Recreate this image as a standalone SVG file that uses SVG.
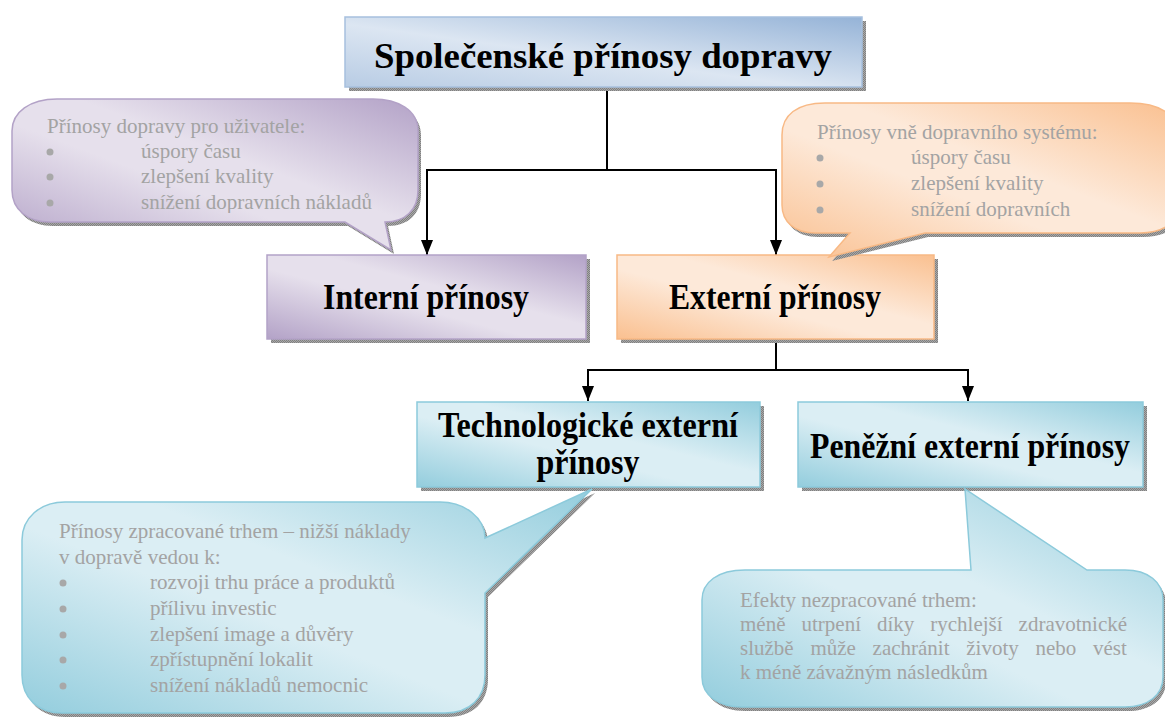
<svg xmlns="http://www.w3.org/2000/svg" width="1165" height="718" viewBox="0 0 1165 718">
  <defs>
    <!-- fills: darker at two opposite corners, pale band through the middle -->
    <linearGradient id="gTitle" x1="0" y1="1" x2="1" y2="0">
      <stop offset="0" stop-color="#b8cce4"/>
      <stop offset="0.45" stop-color="#dce6f2"/>
      <stop offset="1" stop-color="#95b3d7"/>
    </linearGradient>
    <linearGradient id="gPurple" x1="0" y1="1" x2="1" y2="0">
      <stop offset="0" stop-color="#b3a2c7"/>
      <stop offset="0.42" stop-color="#e6e0ec"/>
      <stop offset="0.58" stop-color="#e6e0ec"/>
      <stop offset="1" stop-color="#b3a2c7"/>
    </linearGradient>
    <linearGradient id="gOrange" x1="0" y1="1" x2="1" y2="0">
      <stop offset="0" stop-color="#fac090"/>
      <stop offset="0.42" stop-color="#fde9d9"/>
      <stop offset="0.58" stop-color="#fde9d9"/>
      <stop offset="1" stop-color="#fac090"/>
    </linearGradient>
    <linearGradient id="gBlue" x1="0" y1="1" x2="1" y2="0">
      <stop offset="0" stop-color="#93cddd"/>
      <stop offset="0.42" stop-color="#dbeef4"/>
      <stop offset="0.58" stop-color="#dbeef4"/>
      <stop offset="1" stop-color="#93cddd"/>
    </linearGradient>
    <!-- dithered drop shadow -->
    <pattern id="shade" width="2" height="2" patternUnits="userSpaceOnUse">
      <rect width="2" height="2" fill="#a8a8a8"/>
      <rect width="1" height="1" fill="#808080"/>
      <rect x="1" y="1" width="1" height="1" fill="#808080"/>
    </pattern>
    <!-- solid arrowhead, tip at the end of the line -->
    <marker id="arrow" viewBox="0 0 15 12" markerWidth="15" markerHeight="12" refX="15" refY="6" orient="auto-start-reverse" markerUnits="userSpaceOnUse">
      <path d="M0 0 L15 6 L0 12 Z" fill="#000"/>
    </marker>
    <clipPath id="clipUser"><rect x="0" y="90" width="430" height="123"/></clipPath>
    <clipPath id="clipOuter"><rect x="780" y="95" width="385" height="124"/></clipPath>
  </defs>
  <style>
    .shadow { fill: url(#shade); }
    .title { fill: url(#gTitle); stroke: #a7c0de; stroke-width: 1.5; }
    .purple { fill: url(#gPurple); stroke: #b3a2c7; stroke-width: 1.5; }
    .orange { fill: url(#gOrange); stroke: #f8b985; stroke-width: 1.5; }
    .blue { fill: url(#gBlue); stroke: #8ccadb; stroke-width: 1.5; }
    .label { font-family: "Liberation Serif", "Times New Roman", serif; font-weight: bold; font-size: 35px; fill: #000; text-anchor: middle; }
    .note { font-family: "Liberation Serif", "Times New Roman", serif; font-size: 21px; fill: #a3a3a3; }
    .dot { fill: #a8a8a8; }
    .wire { fill: none; stroke: #000; stroke-width: 2; }
  </style>

  <rect width="1165" height="718" fill="#fff"/>

  <!-- connectors -->
  <g id="connectors">
    <polyline class="wire" points="607,88 607,170"/>
    <polyline class="wire" points="427,255 427,170 776,170 776,255" marker-start="url(#arrow)" marker-end="url(#arrow)"/>
    <polyline class="wire" points="776,340 776,370"/>
    <polyline class="wire" points="588,401 588,370 968,370 968,401" marker-start="url(#arrow)" marker-end="url(#arrow)"/>
  </g>

  <!-- main node -->
  <g id="spolecenske-prinosy">
    <rect class="shadow" x="349" y="21" width="517" height="70"/>
    <rect class="title" x="345" y="17" width="517" height="70"/>
    <text class="label" x="603" y="68" font-size="43" textLength="458" lengthAdjust="spacingAndGlyphs">Společenské přínosy dopravy</text>
  </g>

  <g id="interni-prinosy">
    <rect class="shadow" x="271" y="259" width="319" height="84"/>
    <rect class="purple" x="267" y="255" width="319" height="84"/>
    <text class="label" x="426" y="309" textLength="206" lengthAdjust="spacingAndGlyphs">Interní přínosy</text>
  </g>

  <g id="externi-prinosy">
    <rect class="shadow" x="621" y="259" width="317" height="84"/>
    <rect class="orange" x="617" y="255" width="317" height="84"/>
    <text class="label" x="775" y="309" textLength="212" lengthAdjust="spacingAndGlyphs">Externí přínosy</text>
  </g>

  <g id="technologicke-prinosy">
    <rect class="shadow" x="421" y="406" width="343" height="85"/>
    <rect class="blue" x="417" y="402" width="343" height="85"/>
    <text class="label" x="588" y="437" font-size="33" textLength="300" lengthAdjust="spacingAndGlyphs">Technologické externí</text>
    <text class="label" x="588" y="474" font-size="33" textLength="103" lengthAdjust="spacingAndGlyphs">přínosy</text>
  </g>

  <g id="penezni-prinosy">
    <rect class="shadow" x="802" y="406" width="345" height="85"/>
    <rect class="blue" x="798" y="402" width="345" height="85"/>
    <text class="label" x="970" y="458" textLength="320" lengthAdjust="spacingAndGlyphs">Peněžní externí přínosy</text>
  </g>

  <!-- callout: benefits for users -->
  <g id="bublina-uzivatele">
    <path class="shadow" transform="translate(3,4)" d="M57 99 H373 C398 99 418 110 418 131 V190 C418 210 405 222 385 222 L391 250 L345 222 H50 C28 222 12 210 12 190 V131 C12 112 30 99 57 99 Z"/>
    <path class="purple" d="M57 99 H373 C398 99 418 110 418 131 V190 C418 210 405 222 385 222 L391 250 L345 222 H50 C28 222 12 210 12 190 V131 C12 112 30 99 57 99 Z"/>
    <g clip-path="url(#clipUser)">
      <text class="note" x="47" y="133">Přínosy dopravy pro uživatele:</text>
      <circle class="dot" cx="50" cy="152" r="3.5"/>
      <text class="note" x="141" y="158">úspory času</text>
      <circle class="dot" cx="50" cy="177" r="3.5"/>
      <text class="note" x="141" y="183">zlepšení kvality</text>
      <circle class="dot" cx="50" cy="203" r="3.5"/>
      <text class="note" x="141" y="209">snížení dopravních nákladů</text>
    </g>
  </g>

  <!-- callout: benefits outside the transport system -->
  <g id="bublina-vne">
    <path class="shadow" transform="translate(3,4)" d="M825 103 H1130 C1160 103 1178 115 1178 135 V205 C1178 225 1160 233 1140 233 H925 L829 257 L850 233 H815 C795 233 782 222 782 205 V135 C782 115 797 103 825 103 Z"/>
    <path class="orange" d="M825 103 H1130 C1160 103 1178 115 1178 135 V205 C1178 225 1160 233 1140 233 H925 L829 257 L850 233 H815 C795 233 782 222 782 205 V135 C782 115 797 103 825 103 Z"/>
    <g clip-path="url(#clipOuter)">
      <text class="note" x="817" y="139">Přínosy vně dopravního systému:</text>
      <circle class="dot" cx="820" cy="158" r="3.5"/>
      <text class="note" x="911" y="164">úspory času</text>
      <circle class="dot" cx="820" cy="184" r="3.5"/>
      <text class="note" x="911" y="190">zlepšení kvality</text>
      <circle class="dot" cx="820" cy="210" r="3.5"/>
      <text class="note" x="911" y="216">snížení dopravních</text>
    </g>
  </g>

  <!-- callout: market-processed benefits -->
  <g id="bublina-trh">
    <path class="shadow" transform="translate(3,4)" d="M65 502 H440 C465 502 485 518 485 538 L592 489 L485 593 V675 C485 698 470 713 445 713 H62 C38 713 22 698 22 675 V540 C22 518 40 502 65 502 Z"/>
    <path class="blue" d="M65 502 H440 C465 502 485 518 485 538 L592 489 L485 593 V675 C485 698 470 713 445 713 H62 C38 713 22 698 22 675 V540 C22 518 40 502 65 502 Z"/>
    <text class="note" x="59" y="538">Přínosy zpracované trhem – nižší náklady</text>
    <text class="note" x="59" y="564">v dopravě vedou k:</text>
    <circle class="dot" cx="63" cy="583" r="3.5"/>
    <text class="note" x="150" y="589">rozvoji trhu práce a produktů</text>
    <circle class="dot" cx="63" cy="609" r="3.5"/>
    <text class="note" x="150" y="615">přílivu investic</text>
    <circle class="dot" cx="63" cy="635" r="3.5"/>
    <text class="note" x="150" y="641">zlepšení image a důvěry</text>
    <circle class="dot" cx="63" cy="660" r="3.5"/>
    <text class="note" x="150" y="666">zpřístupnění lokalit</text>
    <circle class="dot" cx="63" cy="686" r="3.5"/>
    <text class="note" x="150" y="692">snížení nákladů nemocnic</text>
  </g>

  <!-- callout: effects not processed by the market -->
  <g id="bublina-netrh">
    <path class="shadow" transform="translate(3,4)" d="M745 570 H971 L965 489 L1087 570 H1125 C1148 570 1163 582 1163 600 V677 C1163 695 1148 707 1125 707 H742 C718 707 702 695 702 677 V600 C702 582 718 570 745 570 Z"/>
    <path class="blue" d="M745 570 H971 L965 489 L1087 570 H1125 C1148 570 1163 582 1163 600 V677 C1163 695 1148 707 1125 707 H742 C718 707 702 695 702 677 V600 C702 582 718 570 745 570 Z"/>
    <text class="note" x="740" y="607">Efekty nezpracované trhem:</text>
    <text class="note" y="631"><tspan x="740">méně</tspan><tspan x="801.5">utrpení</tspan><tspan x="877">díky</tspan><tspan x="930.3">rychlejší</tspan><tspan x="1018.6">zdravotnické</tspan></text>
    <text class="note" y="655"><tspan x="740">službě</tspan><tspan x="810.4">může</tspan><tspan x="872.6">zachránit</tspan><tspan x="966.3">životy</tspan><tspan x="1035.5">nebo</tspan><tspan x="1093">vést</tspan></text>
    <text class="note" x="740" y="679">k méně závažným následkům</text>
  </g>
</svg>
